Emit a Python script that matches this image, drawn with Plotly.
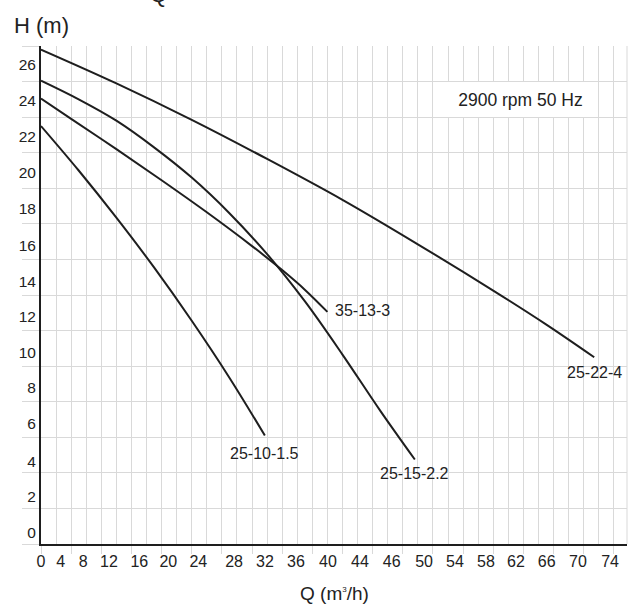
import plotly.graph_objects as go

# ---- data (Q on the chart's grid scale, H in m) ----
q_25_22_4 = [0, 10, 20, 30, 40, 50, 60, 67, 73.4]
h_25_22_4 = [26.8, 24.9, 22.85, 20.65, 18.35, 15.85, 13.25, 11.35, 9.5]

q_25_15_22 = [0, 5, 10, 15, 20, 25, 30, 35, 40, 45, 49.6]
h_25_15_22 = [25.05, 24.0, 22.8, 21.3, 19.6, 17.6, 15.3, 12.65, 9.65, 6.5, 3.75]

q_35_13_3 = [0, 4, 10, 16, 22, 28, 32, 35, 38]
h_35_13_3 = [24.05, 22.9, 21.2, 19.45, 17.65, 15.75, 14.4, 13.3, 12.05]

q_25_10_15 = [0, 5, 10, 15, 20, 25, 29.7]
h_25_10_15 = [22.5, 20.0, 17.35, 14.55, 11.55, 8.35, 5.1]

curve_names = ["25-22-4", "25-15-2.2", "35-13-3", "25-10-1.5"]

x_tick_labels = ["0", "4", "8", "12", "16", "20", "24", "28", "32", "36", "40",
                 "44", "46", "50", "54", "58", "62", "66", "70", "74"]
y_tick_labels = ["0", "2", "4", "6", "8", "10", "12", "14", "16", "18", "20",
                 "22", "24", "26"]

# ---- layout helpers (label placement) ----
x_label_pos = [0, 2.61, 5.61, 9.02, 13.04, 16.89, 20.87, 25.61, 29.72, 33.83, 38.08,
               42.32, 46.53, 50.82, 54.93, 59.04, 63.02, 67.1, 71.25, 75.5]
y_label_pos = [-0.38, 1.64, 3.64, 5.75, 7.77, 9.79, 11.81, 13.78, 15.8, 17.88, 19.9,
               21.88, 23.94, 25.97]
label_xy = {"25-22-4": (73.4, 8.66), "25-15-2.2": (49.6, 2.99),
            "35-13-3": (42.6, 12.15), "25-10-1.5": (29.6, 4.1)}

GRID = "#d9d9d9"
INK = "#1e1e1e"
FONT = "Liberation Sans, Arial, sans-serif"

fig = go.Figure()
for name, qs, hs in zip(curve_names,
                        [q_25_22_4, q_25_15_22, q_35_13_3, q_25_10_15],
                        [h_25_22_4, h_25_15_22, h_35_13_3, h_25_10_15]):
    fig.add_trace(go.Scatter(x=qs, y=hs, mode="lines", name=name,
                             line=dict(color=INK, width=2, shape="spline", smoothing=1.0),
                             showlegend=False))

# helper trace so the label axis is rendered
fig.add_trace(go.Scatter(x=[None], y=[None], xaxis="x2", yaxis="y",
                         showlegend=False, hoverinfo="skip"))

XR = [0, 77.75]
fig.update_layout(
    width=628, height=605,
    margin=dict(l=41, r=1, t=46, b=61),
    plot_bgcolor="white", paper_bgcolor="white",
    font=dict(family=FONT, color="#222", size=15),
    showlegend=False,
    xaxis=dict(range=XR, tickmode="linear", tick0=0, dtick=4,
               ticks="outside", ticklen=8, tickcolor=GRID, tickwidth=1,
               showticklabels=False, showgrid=True, gridcolor=GRID, gridwidth=1,
               minor=dict(tickmode="linear", tick0=0, dtick=2, showgrid=True,
                          gridcolor=GRID, gridwidth=1, ticks=""),
               showline=True, linecolor=INK, linewidth=2, zeroline=False),
    xaxis2=dict(overlaying="x", anchor="y", side="bottom", range=XR,
                tickmode="array", tickvals=x_label_pos, ticktext=x_tick_labels,
                ticks="", showgrid=False, showline=False, zeroline=False,
                ticklabelstandoff=6,
                tickfont=dict(size=16, color="#222", family=FONT)),
    yaxis=dict(range=[-1, 27], tickmode="array", tickvals=y_label_pos,
               ticktext=y_tick_labels, ticks="", showgrid=False,
               minor=dict(tickmode="linear", tick0=1, dtick=2, ticks="outside",
                          ticklen=17, tickcolor=GRID, tickwidth=1,
                          showgrid=True, gridcolor=GRID, gridwidth=1),
               showline=True, linecolor=INK, linewidth=2, zeroline=False,
               tickfont=dict(size=15.5, color="#222", family=FONT)),
)

fig.add_shape(type="line", xref="paper", yref="paper", x0=1, x1=1, y0=0, y1=1,
              line=dict(color=GRID, width=1))

for name in curve_names:
    lx, ly = label_xy[name]
    fig.add_annotation(x=lx, y=ly, text=name, showarrow=False,
                       xanchor="center", yanchor="middle",
                       font=dict(size=16, color="#222", family=FONT))

fig.add_annotation(x=63.6, y=24, text="2900 rpm 50 Hz", showarrow=False,
                   bgcolor="white", width=147, height=35, borderpad=0, borderwidth=0,
                   xanchor="center", yanchor="middle",
                   font=dict(size=17.5, color="#222", family=FONT))

fig.add_annotation(xref="paper", yref="paper", x=0, y=1, xshift=-29, yshift=21,
                   xanchor="left", yanchor="middle", text="H (m)", showarrow=False,
                   font=dict(size=22, color="#222", family=FONT))
fig.add_annotation(xref="paper", yref="paper", x=0.5, y=0, yshift=-49,
                   xanchor="center", yanchor="middle",
                   text="Q (m<sup><span style='font-size:8px'>3</span></sup>/h)",
                   showarrow=False, font=dict(size=19, color="#222", family=FONT))
fig.add_annotation(xref="paper", yref="paper", x=0.1997, y=1, yshift=52,
                   xanchor="center", yanchor="middle", text="Q", showarrow=False,
                   font=dict(size=22, color="#222", family=FONT))

fig.write_html("out.html",
               config={"displayModeBar": False, "staticPlot": True},
               post_script="document.body.style.margin='0px';"
                           "document.body.style.overflow='hidden';")
